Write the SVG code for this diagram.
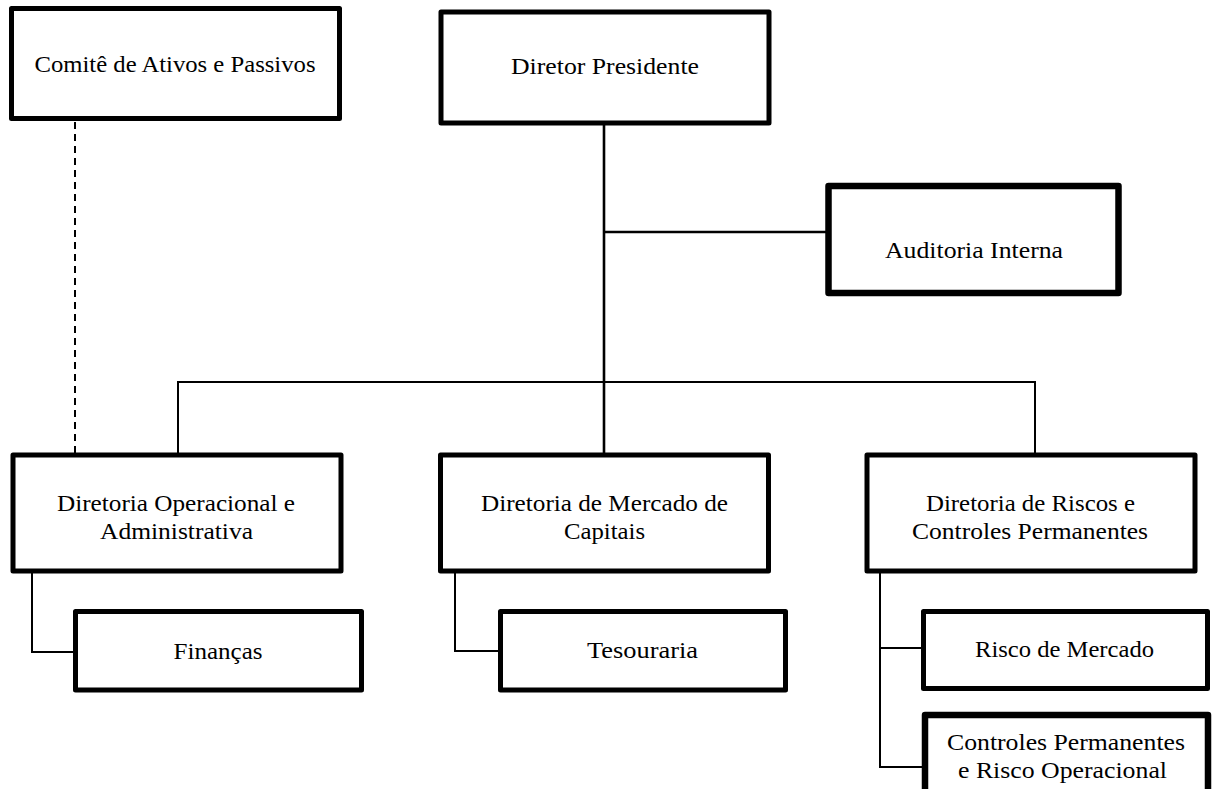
<svg xmlns="http://www.w3.org/2000/svg" width="1212" height="789" viewBox="0 0 1212 789">
<style>
.box{fill:#fff;stroke:#000;stroke-width:5;stroke-linejoin:round}
.thick{stroke-width:6.5}
.t{font-family:"Liberation Serif","Times New Roman",serif;font-size:24px;fill:#000;text-anchor:middle}
.c{fill:none;stroke:#000;stroke-width:2}
.c3{fill:none;stroke:#000;stroke-width:2.6}
.dash{fill:none;stroke:#000;stroke-width:2;stroke-dasharray:7 5}
</style>
<rect width="1212" height="789" fill="#fff"/>
<g id="connectors">
<line class="dash" x1="75" y1="122" x2="75" y2="462"/>
<line class="c3" x1="604" y1="124" x2="604" y2="455"/>
<line class="c3" x1="604" y1="232" x2="826" y2="232"/>
<polyline class="c" points="178,455 178,382 1035,382 1035,455"/>
<polyline class="c" points="32,572 32,652 75,652"/>
<polyline class="c" points="455,567 455,651 500,651"/>
<polyline class="c" points="880,567 880,767 925,767"/>
<line class="c" x1="880" y1="648" x2="923" y2="648"/>
</g>
<g id="comite">
<rect class="box" x="11.5" y="8.5" width="328" height="110"/>
<text class="t" x="175" y="72" textLength="281" lengthAdjust="spacingAndGlyphs">Comitê de Ativos e Passivos</text>
</g>
<g id="diretor-presidente">
<rect class="box" x="441" y="12" width="328" height="111"/>
<text class="t" x="605" y="74" textLength="188" lengthAdjust="spacingAndGlyphs">Diretor Presidente</text>
</g>
<g id="auditoria">
<rect class="box thick" x="828.5" y="186" width="290" height="107"/>
<text class="t" x="974" y="258" textLength="178" lengthAdjust="spacingAndGlyphs">Auditoria Interna</text>
</g>
<g id="dir-operacional">
<rect class="box" x="13" y="455" width="328" height="116"/>
<text class="t" x="176" y="511" textLength="238" lengthAdjust="spacingAndGlyphs">Diretoria Operacional e</text>
<text class="t" x="176.5" y="539" textLength="153" lengthAdjust="spacingAndGlyphs">Administrativa</text>
</g>
<g id="dir-mercado">
<rect class="box" x="440.5" y="455" width="328" height="116"/>
<text class="t" x="604.5" y="511" textLength="247" lengthAdjust="spacingAndGlyphs">Diretoria de Mercado de</text>
<text class="t" x="604.5" y="539" textLength="81" lengthAdjust="spacingAndGlyphs">Capitais</text>
</g>
<g id="dir-riscos">
<rect class="box" x="867" y="455" width="328" height="116"/>
<text class="t" x="1030.5" y="511" textLength="209" lengthAdjust="spacingAndGlyphs">Diretoria de Riscos e</text>
<text class="t" x="1030" y="539" textLength="236" lengthAdjust="spacingAndGlyphs">Controles Permanentes</text>
</g>
<g id="financas">
<rect class="box" x="75.5" y="611.5" width="286" height="78.5"/>
<text class="t" x="218" y="659" textLength="89" lengthAdjust="spacingAndGlyphs">Finanças</text>
</g>
<g id="tesouraria">
<rect class="box" x="500.5" y="611.5" width="285" height="78.5"/>
<text class="t" x="642.5" y="658" textLength="111" lengthAdjust="spacingAndGlyphs">Tesouraria</text>
</g>
<g id="risco-mercado">
<rect class="box" x="923.5" y="611.5" width="284" height="77"/>
<text class="t" x="1064.5" y="657" textLength="179" lengthAdjust="spacingAndGlyphs">Risco de Mercado</text>
</g>
<g id="controles-risco-op">
<rect class="box thick" x="925" y="715" width="283" height="100"/>
<text class="t" x="1066" y="750" textLength="238" lengthAdjust="spacingAndGlyphs">Controles Permanentes</text>
<text class="t" x="1062.5" y="778" textLength="209" lengthAdjust="spacingAndGlyphs">e Risco Operacional</text>
</g>
</svg>
